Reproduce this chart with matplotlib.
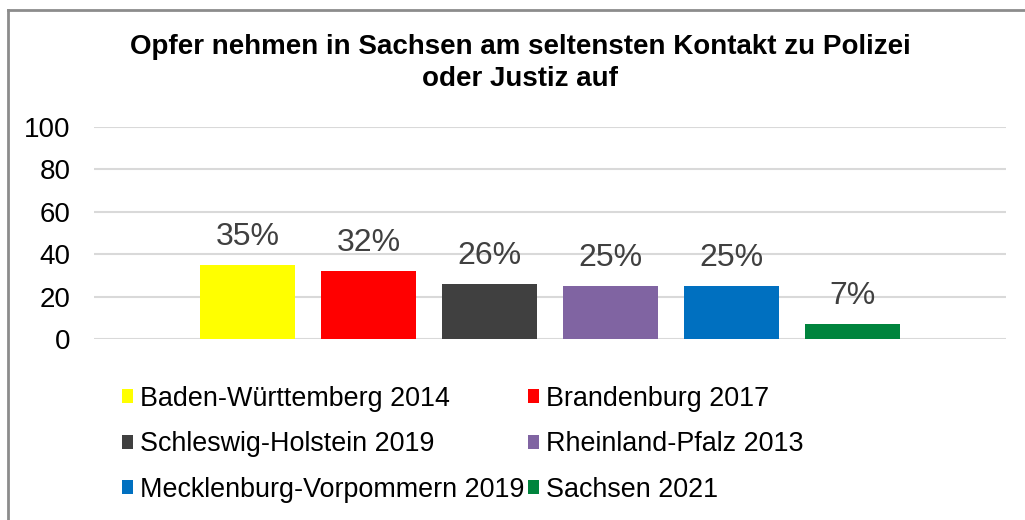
import matplotlib
matplotlib.use("Agg")
import matplotlib.pyplot as plt
from matplotlib.lines import Line2D
from matplotlib.patches import Patch

plt.rcParams['font.family'] = ['Liberation Sans', 'DejaVu Sans']

title = "Opfer nehmen in Sachsen am seltensten Kontakt zu Polizei\noder Justiz auf"
series = ["Baden-Württemberg 2014", "Brandenburg 2017", "Schleswig-Holstein 2019",
          "Rheinland-Pfalz 2013", "Mecklenburg-Vorpommern 2019", "Sachsen 2021"]
values = [35, 32, 26, 25, 25, 7]
colors = ["#FFFF00", "#FF0000", "#404040", "#8064A2", "#0070C0", "#00843D"]
yticks = [0, 20, 40, 60, 80, 100]

W, H = 1025, 520
fig = plt.figure(figsize=(W / 100, H / 100), dpi=100)
ax = fig.add_axes([94 / W, 1 - 339 / H, (1006 - 94) / W, (339 - 127) / H])

xs = list(range(len(values)))
bars = ax.bar(xs, values, width=0.79, color=colors, zorder=3)
ax.bar_label(bars, labels=[f"{v}%" for v in values], padding=9.5,
             fontsize=23, color="#404040")

ax.set_xlim(2.5 - 3.77, 2.5 + 3.77)
ax.set_ylim(0, 100)
ax.set_yticks(yticks)
ax.set_yticklabels([str(t) for t in yticks], fontsize=20, color="black")
ax.set_xticks([])
ax.tick_params(axis='y', length=0, pad=17)
ax.grid(axis='y', color="#D9D9D9", linewidth=1.5, zorder=0)
for s in ax.spines.values():
    s.set_visible(False)

fig.text(520 / W, 1 - 63 / H, title, ha='center', va='center', fontsize=20,
         fontweight='bold', linespacing=1.33)

handles = [Patch(facecolor=c, edgecolor='none') for c in colors]
order = [0, 2, 4, 1, 3, 5]
leg = fig.legend([handles[i] for i in order], [series[i] for i in order],
                 ncol=2, loc='upper left', bbox_to_anchor=(122 / W, 1 - 386 / H),
                 frameon=False, fontsize=19.4, handlelength=0.42, handleheight=0.42,
                 handletextpad=0.25, columnspacing=0.12, labelspacing=0.72,
                 borderpad=0, borderaxespad=0)

# outer chart border (cropped on right and bottom)
fig.add_artist(Line2D([8 / W, 1.0], [1 - 10 / H, 1 - 10 / H], transform=fig.transFigure,
                      color="#8C8C8C", linewidth=2))
fig.add_artist(Line2D([8 / W, 8 / W], [0, 1 - 10 / H], transform=fig.transFigure,
                      color="#8C8C8C", linewidth=2))

fig.savefig("out.png", dpi=100)
